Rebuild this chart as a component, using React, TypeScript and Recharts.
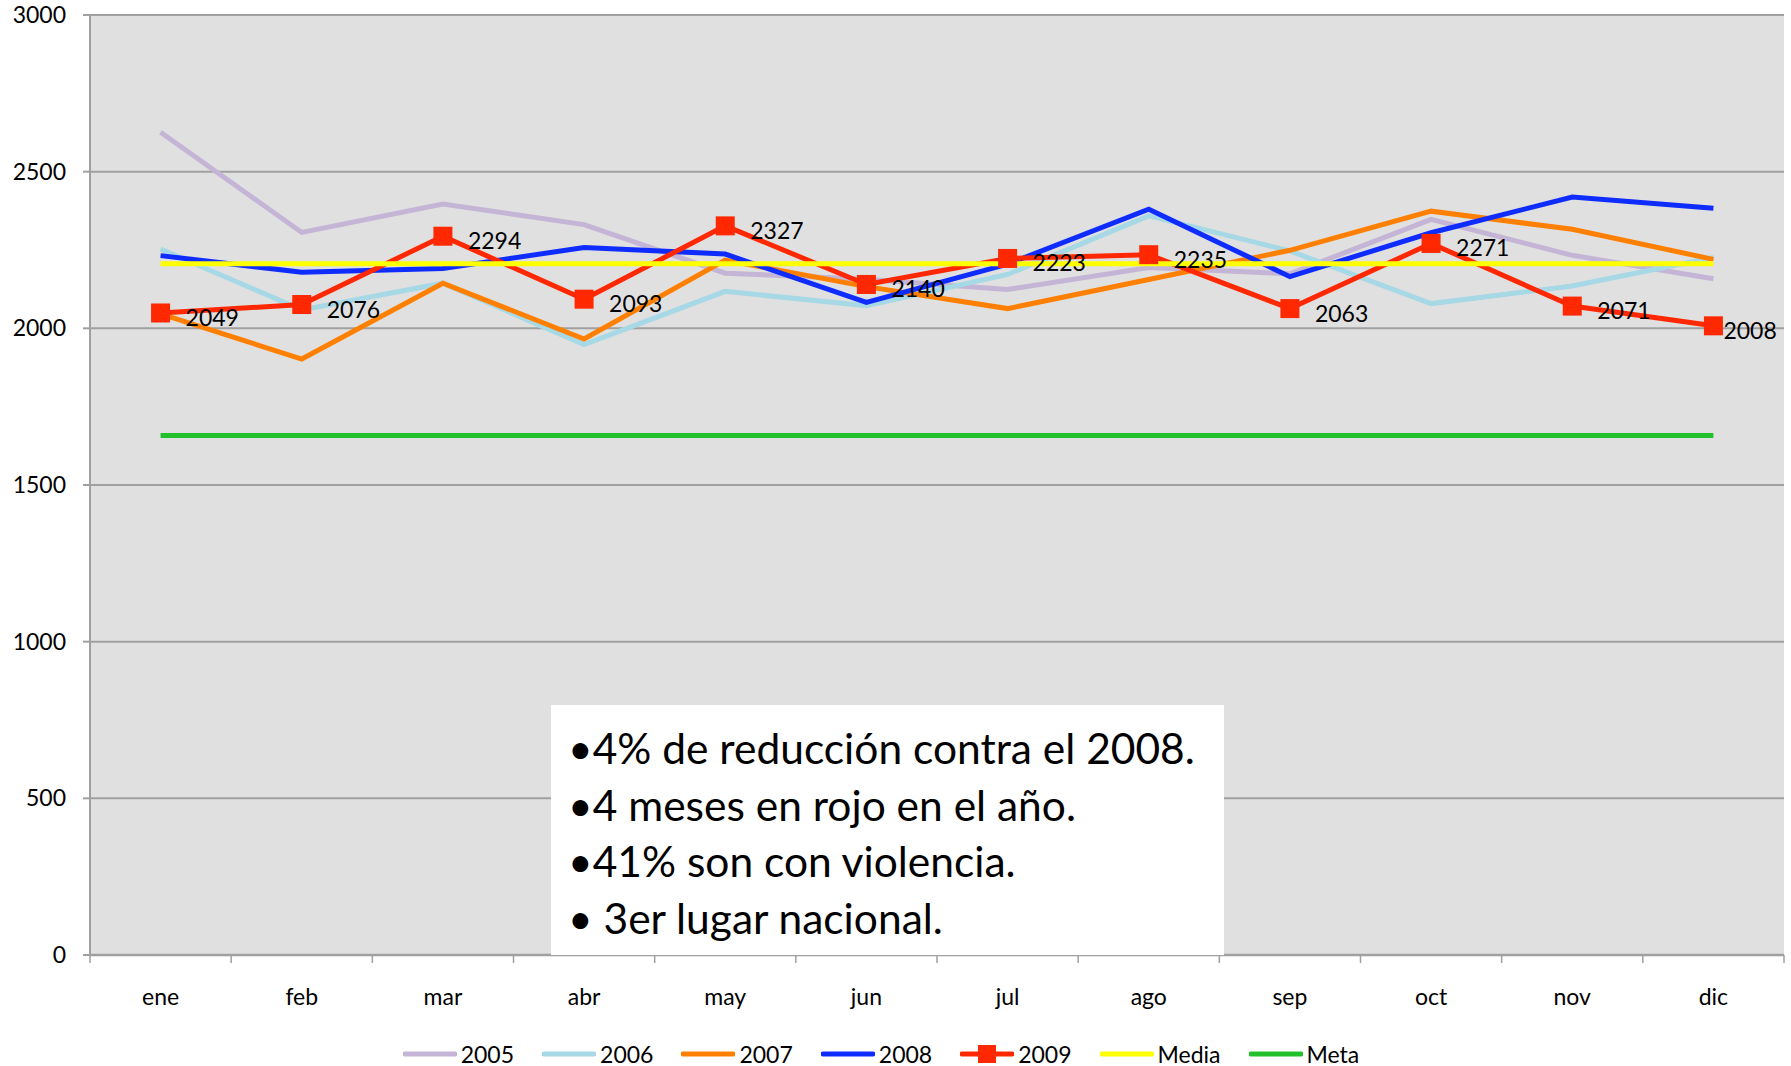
import React from 'react';
import { LineChart, Line, XAxis, YAxis, CartesianGrid, Legend, LabelList } from 'recharts';

const months = ['ene', 'feb', 'mar', 'abr', 'may', 'jun', 'jul', 'ago', 'sep', 'oct', 'nov', 'dic'];
const s2005 = [2626, 2306, 2397, 2331, 2176, 2157, 2124, 2194, 2174, 2348, 2233, 2158];
const s2006 = [2253, 2059, 2144, 1948, 2118, 2072, 2172, 2359, 2247, 2079, 2135, 2226];
const s2007 = [2046, 1902, 2144, 1966, 2218, 2133, 2063, 2156, 2249, 2374, 2316, 2220];
const s2008 = [2232, 2179, 2191, 2258, 2237, 2083, 2205, 2380, 2165, 2305, 2419, 2383];
const s2009 = [2049, 2076, 2294, 2093, 2327, 2140, 2223, 2235, 2063, 2271, 2071, 2008];
const media = [2206, 2206, 2206, 2206, 2206, 2206, 2206, 2206, 2206, 2206, 2206, 2206];
const meta = [1658, 1658, 1658, 1658, 1658, 1658, 1658, 1658, 1658, 1658, 1658, 1658];
const yTicks = [0, 500, 1000, 1500, 2000, 2500, 3000];
const notes = [
  '•4% de reducción contra el 2008.',
  '•4 meses en rojo en el año.',
  '•41% son con violencia.',
  '• 3er lugar nacional.',
];

const data = months.map((m, i) => ({
  m,
  a2005: s2005[i],
  a2006: s2006[i],
  a2007: s2007[i],
  a2008: s2008[i],
  a2009: s2009[i],
  media: media[i],
  meta: meta[i],
}));

const W = 1791;
const H = 1066;
const LEFT = 90;
const RIGHT = 7;
const FONT = 'Lato, "DejaVu Sans", sans-serif';
const HALF_BAND = (W - LEFT - RIGHT) / months.length / 2;

const series = [
  { key: 'a2005', name: '2005', color: '#c4b4d6' },
  { key: 'a2006', name: '2006', color: '#a6d8e6' },
  { key: 'a2007', name: '2007', color: '#ff8000' },
  { key: 'a2008', name: '2008', color: '#0f2cff' },
  { key: 'a2009', name: '2009', color: '#ff2800', marker: true },
  { key: 'media', name: 'Media', color: '#ffff00' },
  { key: 'meta', name: 'Meta', color: '#22c02a' },
];

const XTick = (props: any) => {
  const { x, y, payload, index } = props;
  return (
    <g>
      <line x1={x - HALF_BAND} x2={x - HALF_BAND} y1={y} y2={y + 8} stroke="#a0a0a0" strokeWidth={1.5} />
      {index === months.length - 1 && (
        <line x1={x + HALF_BAND} x2={x + HALF_BAND} y1={y} y2={y + 8} stroke="#a0a0a0" strokeWidth={1.5} />
      )}
      <text x={x} y={y + 41} textAnchor="middle" dominantBaseline="central" fontFamily={FONT} fontSize={23} fill="#000">
        {payload.value}
      </text>
    </g>
  );
};

const SquareDot = (props: any) => {
  const { cx, cy } = props;
  if (cx == null || cy == null) return null;
  return <rect x={cx - 9.5} y={cy - 9.5} width={19} height={19} fill="#ff2800" />;
};

const RedLabel = (props: any) => {
  const { x, y, value, index } = props;
  const dx = index === months.length - 1 ? 10 : 25;
  return (
    <text x={x + dx} y={y + 4} dominantBaseline="central" fontFamily={FONT} fontSize={23} fill="#000">
      {value}
    </text>
  );
};

const LegendContent = () => (
  <div style={{ display: 'flex', justifyContent: 'center', alignItems: 'center', width: 1790, fontFamily: FONT, fontSize: 23 }}>
    {series.map((s) => (
      <div key={s.key} style={{ display: 'flex', alignItems: 'center', marginRight: 28 }}>
        <svg width={54} height={22} style={{ marginRight: 4 }}>
          <line x1={2} x2={52} y1={11} y2={11} stroke={s.color} strokeWidth={5} strokeLinecap="round" />
          {s.marker && <rect x={18} y={2} width={18} height={18} fill={s.color} />}
        </svg>
        <span style={{ color: '#000' }}>{s.name}</span>
      </div>
    ))}
  </div>
);

export default function App() {
  return (
    <div style={{ position: 'absolute', left: 0, top: 0, width: W, height: H, background: '#fff' }}>
      <LineChart width={W} height={H} data={data} margin={{ top: 15, right: RIGHT, left: 0, bottom: 0 }}>
        <CartesianGrid vertical={false} stroke="#a0a0a0" strokeWidth={2} fill="#e0e0e0" />
        <XAxis
          dataKey="m"
          height={111}
          padding={{ left: HALF_BAND, right: HALF_BAND }}
          tickLine={false}
          tickSize={0}
          tickMargin={0}
          axisLine={{ stroke: '#a0a0a0', strokeWidth: 2.5 }}
          tick={<XTick />}
          interval={0}
        />
        <YAxis
          width={LEFT}
          domain={[0, 3000]}
          ticks={yTicks}
          tickSize={7}
          tickMargin={17}
          tickLine={{ stroke: '#a0a0a0', strokeWidth: 2 }}
          axisLine={{ stroke: '#a0a0a0', strokeWidth: 2 }}
          tick={{ fontFamily: FONT, fontSize: 23, fill: '#000' }}
          interval={0}
        />
        <Legend
          verticalAlign="middle"
          align="center"
          layout="horizontal"
          wrapperStyle={{ top: 1040, left: 0, width: 1790 }}
          content={<LegendContent />}
        />
        {series.map((s) =>
          s.marker ? (
            <Line
              key={s.key}
              dataKey={s.key}
              name={s.name}
              stroke={s.color}
              strokeWidth={5}
              dot={<SquareDot />}
              activeDot={false}
              isAnimationActive={false}
            >
              <LabelList dataKey={s.key} content={<RedLabel />} />
            </Line>
          ) : (
            <Line
              key={s.key}
              dataKey={s.key}
              name={s.name}
              stroke={s.color}
              strokeWidth={5}
              dot={false}
              activeDot={false}
              isAnimationActive={false}
            />
          )
        )}
      </LineChart>
      <div
        style={{
          position: 'absolute',
          left: 551,
          top: 705,
          width: 673,
          height: 250,
          background: '#fff',
          boxSizing: 'border-box',
          paddingLeft: 17,
          paddingTop: 15,
          fontFamily: FONT,
          fontSize: 42.5,
          lineHeight: '56.5px',
          color: '#000',
          whiteSpace: 'nowrap',
        }}
      >
        {notes.map((n) => (
          <div key={n}>{n}</div>
        ))}
      </div>
    </div>
  );
}
